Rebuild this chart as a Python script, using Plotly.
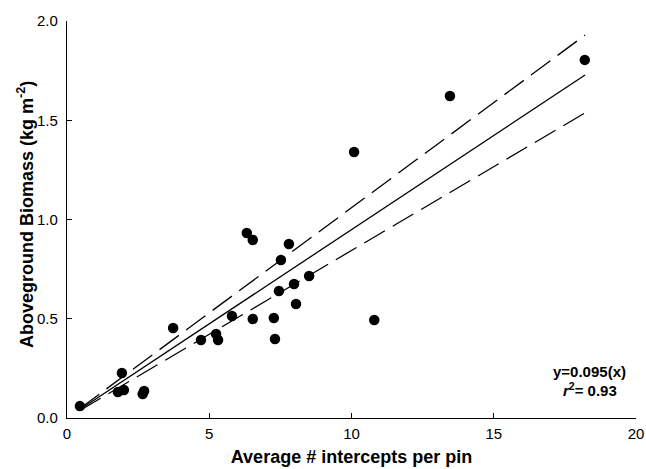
import plotly.graph_objects as go

pins = [0.454, 1.79, 1.93, 2.00, 2.66, 2.71, 3.73, 4.71, 5.24, 5.31, 5.80, 6.32, 6.53,
        6.53, 7.27, 7.31, 7.45, 7.52, 7.80, 7.98, 8.05, 8.51, 10.09, 10.80, 13.46, 18.20]
biomass = [0.060, 0.131, 0.227, 0.141, 0.121, 0.136, 0.453, 0.393, 0.423, 0.393, 0.514, 0.932, 0.897,
           0.499, 0.504, 0.398, 0.640, 0.796, 0.877, 0.675, 0.574, 0.715, 1.340, 0.494, 1.622, 1.804]

# Fitted line and 95% confidence bands (endpoints)
fit_x = [0.454, 18.21]
fit_y = [0.043, 1.728]
upper_y = [0.048, 1.929]
lower_y = [0.038, 1.537]

x_ticks = [0, 5, 10, 15, 20]
y_ticks = [0.0, 0.5, 1.0, 1.5, 2.0]
y_tick_text = ["0.0", "0.5", "1.0", "1.5", "2.0"]

FONT = "Liberation Sans, Arial, sans-serif"

fig = go.Figure()
fig.add_trace(go.Scatter(x=fit_x, y=upper_y, mode="lines",
                         line=dict(color="black", width=1.3, dash="24px,9px")))
fig.add_trace(go.Scatter(x=fit_x, y=lower_y, mode="lines",
                         line=dict(color="black", width=1.3, dash="24px,9px")))
fig.add_trace(go.Scatter(x=fit_x, y=fit_y, mode="lines",
                         line=dict(color="black", width=1.3)))
fig.add_trace(go.Scatter(x=pins, y=biomass, mode="markers",
                         marker=dict(color="black", size=10.5), cliponaxis=False))

fig.update_layout(
    width=646, height=469,
    margin=dict(l=67, r=10, t=21, b=51),
    paper_bgcolor="white", plot_bgcolor="white",
    showlegend=False,
    font=dict(family=FONT, color="black", size=15),
    xaxis=dict(range=[0, 20], tickvals=x_ticks, showgrid=False, zeroline=False,
               automargin=False,
               showline=True, linecolor="black", linewidth=1.2,
               ticks="inside", ticklen=5, tickcolor="black", tickwidth=1.2,
               tickfont=dict(size=15), ticklabelstandoff=2,
               title=dict(text="<b>Average # intercepts per pin</b>",
                          font=dict(size=18), standoff=9)),
    yaxis=dict(range=[0, 2.0], tickvals=y_ticks, ticktext=y_tick_text,
               showgrid=False, zeroline=False, automargin=False,
               showline=True, linecolor="black", linewidth=1.2,
               ticks="inside", ticklen=5, tickcolor="black", tickwidth=1.2,
               tickfont=dict(size=15), ticklabelstandoff=5),
)

# y-axis title placed precisely
fig.add_annotation(xref="paper", yref="paper", x=-0.0721, y=0.514,
                   text="<b>Aboveground Biomass (kg m<sup>-2</sup>)</b>",
                   textangle=-90, showarrow=False, xanchor="center", yanchor="middle",
                   font=dict(size=18, family=FONT))

fig.add_annotation(xref="x", yref="y", x=18.38, y=0.232, text="<b>y=0.095(x)</b>",
                   showarrow=False, xanchor="center", yanchor="middle",
                   font=dict(size=15, family=FONT))
fig.add_annotation(xref="x", yref="y", x=18.38, y=0.146, text="<b><i>r</i><sup>2</sup>= 0.93</b>",
                   showarrow=False, xanchor="center", yanchor="middle",
                   font=dict(size=15, family=FONT))

fig.write_html("out.html", config={"displayModeBar": False},
               post_script="document.body.style.margin='0';document.body.style.overflow='hidden';")
